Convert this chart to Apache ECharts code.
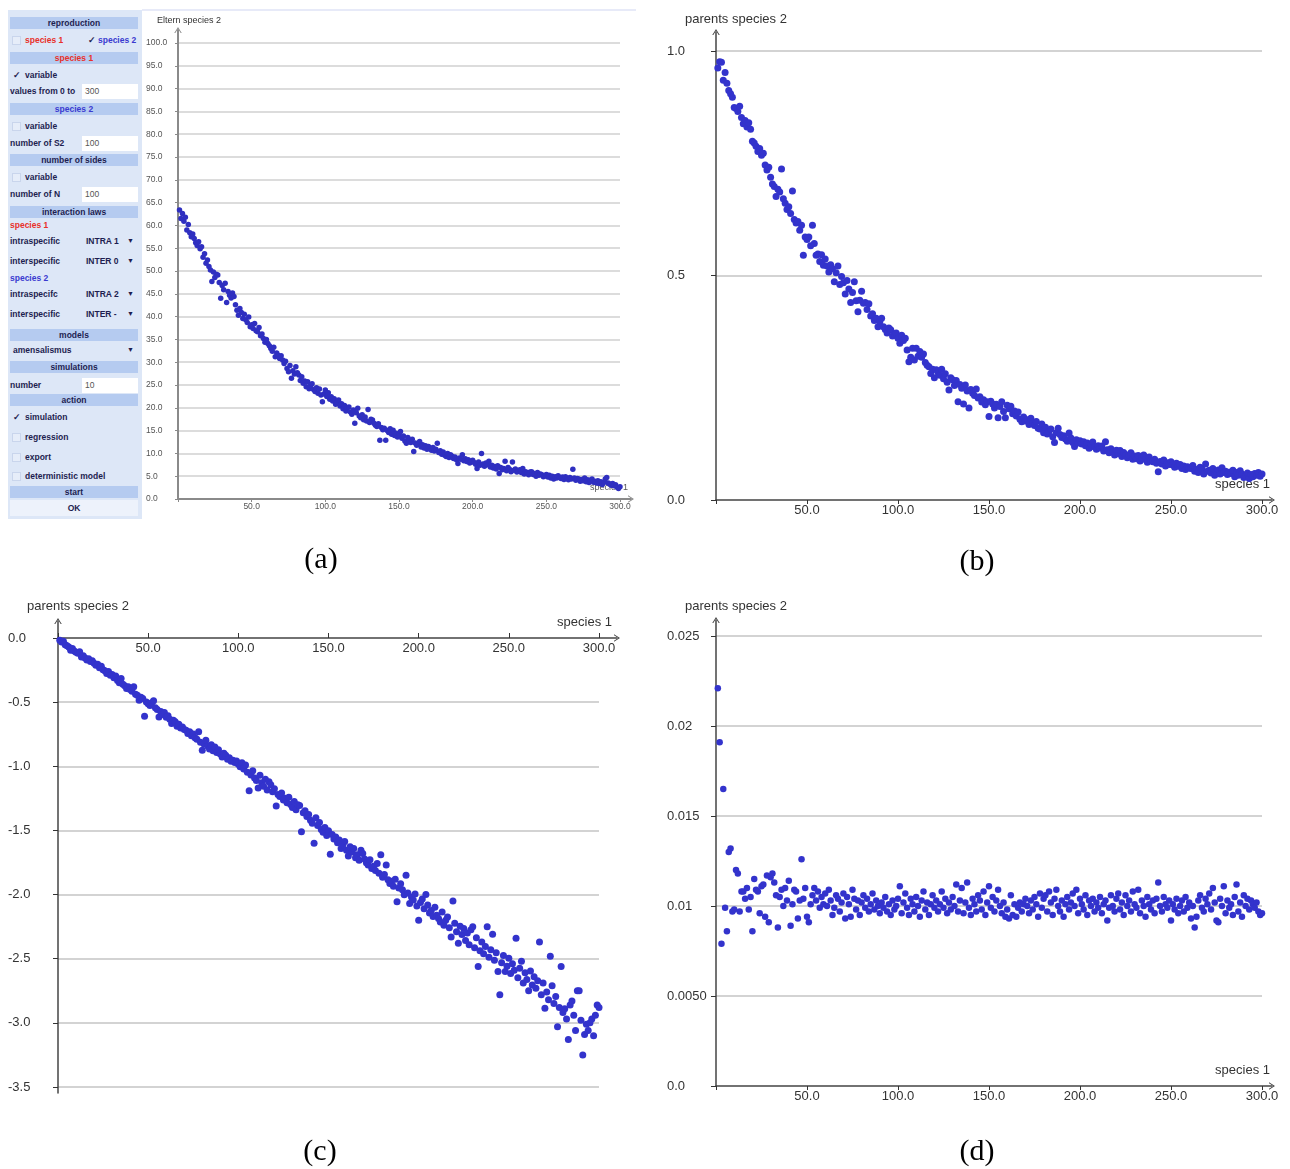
<!DOCTYPE html>
<html><head><meta charset="utf-8">
<script src="https://cdn.jsdelivr.net/npm/echarts@6/dist/echarts.min.js"></script>
<style>
html,body{margin:0;padding:0;background:#fff;width:1290px;height:1169px;overflow:hidden;}
#chart{position:absolute;left:0;top:0;width:1290px;height:1169px;}
#panel{position:absolute;left:0;top:0;width:0;height:0;z-index:5;font-family:"Liberation Sans",Arial,sans-serif;font-size:8.5px;font-weight:bold;color:#1e1e50;}
#panel div{position:absolute;white-space:nowrap;}
#panel .bg{left:8px;top:10px;width:134px;height:509px;background:#dde7f7;}
#panel .h{left:10px;width:128px;height:12px;line-height:12px;background:#b5cbf0;text-align:center;}
#panel .t{height:12px;line-height:12px;}
#panel .inp{left:82px;width:56px;height:15px;line-height:15px;background:#fff;font-weight:normal;color:#555;padding-left:3px;box-sizing:border-box;}
#panel .cb{width:7px;height:7px;border:1px solid #c9d5ec;background:#e6edf9;}
#panel .red{color:#e8302a;}
#panel .blue{color:#3a3ad0;}
#panel .arr{font-size:7px;}
#panel .ok{left:10px;top:500px;width:128px;height:16px;line-height:16px;background:#edf2fb;text-align:center;}
</style></head>
<body>
<div id="chart"></div>
<div id="panel">
  <div class="bg"></div>
  <div class="h" style="top:17px">reproduction</div>
  <div class="cb" style="left:12px;top:36px"></div>
  <div class="t red" style="left:25px;top:34px">species 1</div>
  <div class="t" style="left:88px;top:34px">&#10003;</div>
  <div class="t blue" style="left:98px;top:34px">species 2</div>
  <div class="h red" style="top:52px">species 1</div>
  <div class="t" style="left:13px;top:69px">&#10003;</div>
  <div class="t" style="left:25px;top:69px">variable</div>
  <div class="t" style="left:10px;top:85px">values from 0 to</div>
  <div class="inp" style="top:84px">300</div>
  <div class="h blue" style="top:103px">species 2</div>
  <div class="cb" style="left:12px;top:122px"></div>
  <div class="t" style="left:25px;top:120px">variable</div>
  <div class="t" style="left:10px;top:137px">number of S2</div>
  <div class="inp" style="top:136px">100</div>
  <div class="h" style="top:154px">number of sides</div>
  <div class="cb" style="left:12px;top:173px"></div>
  <div class="t" style="left:25px;top:171px">variable</div>
  <div class="t" style="left:10px;top:188px">number of N</div>
  <div class="inp" style="top:187px">100</div>
  <div class="h" style="top:206px">interaction laws</div>
  <div class="t red" style="left:10px;top:219px">species 1</div>
  <div class="t" style="left:10px;top:235px">intraspecific</div>
  <div class="t" style="left:86px;top:235px">INTRA 1</div>
  <div class="t arr" style="left:127px;top:235px">&#9660;</div>
  <div class="t" style="left:10px;top:255px">interspecific</div>
  <div class="t" style="left:86px;top:255px">INTER 0</div>
  <div class="t arr" style="left:127px;top:255px">&#9660;</div>
  <div class="t blue" style="left:10px;top:272px">species 2</div>
  <div class="t" style="left:10px;top:288px">intraspecifc</div>
  <div class="t" style="left:86px;top:288px">INTRA 2</div>
  <div class="t arr" style="left:127px;top:288px">&#9660;</div>
  <div class="t" style="left:10px;top:308px">interspecific</div>
  <div class="t" style="left:86px;top:308px">INTER -</div>
  <div class="t arr" style="left:127px;top:308px">&#9660;</div>
  <div class="h" style="top:329px">models</div>
  <div class="t" style="left:13px;top:344px">amensalismus</div>
  <div class="t arr" style="left:127px;top:344px">&#9660;</div>
  <div class="h" style="top:361px">simulations</div>
  <div class="t" style="left:10px;top:379px">number</div>
  <div class="inp" style="top:378px">10</div>
  <div class="h" style="top:394px">action</div>
  <div class="t" style="left:13px;top:411px">&#10003;</div>
  <div class="t" style="left:25px;top:411px">simulation</div>
  <div class="cb" style="left:12px;top:433px"></div>
  <div class="t" style="left:25px;top:431px">regression</div>
  <div class="cb" style="left:12px;top:453px"></div>
  <div class="t" style="left:25px;top:451px">export</div>
  <div class="cb" style="left:12px;top:472px"></div>
  <div class="t" style="left:25px;top:470px">deterministic model</div>
  <div class="h" style="top:486px">start</div>
  <div class="ok">OK</div>
</div>
<script>
// ---------------- data ----------------
const xs = [
1,2,3,4,5,6,7,8,9,10,11,12,13,14,15,16,17,18,19,20,
21,22,23,24,25,26,27,28,29,30,31,32,33,34,35,36,37,38,39,40,
41,42,43,44,45,46,47,48,49,50,51,52,53,54,55,56,57,58,59,60,
61,62,63,64,65,66,67,68,69,70,71,72,73,74,75,76,77,78,79,80,
81,82,83,84,85,86,87,88,89,90,91,92,93,94,95,96,97,98,99,100,
101,102,103,104,105,106,107,108,109,110,111,112,113,114,115,116,117,118,119,120,
121,122,123,124,125,126,127,128,129,130,131,132,133,134,135,136,137,138,139,140,
141,142,143,144,145,146,147,148,149,150,151,152,153,154,155,156,157,158,159,160,
161,162,163,164,165,166,167,168,169,170,171,172,173,174,175,176,177,178,179,180,
181,182,183,184,185,186,187,188,189,190,191,192,193,194,195,196,197,198,199,200,
201,202,203,204,205,206,207,208,209,210,211,212,213,214,215,216,217,218,219,220,
221,222,223,224,225,226,227,228,229,230,231,232,233,234,235,236,237,238,239,240,
241,242,243,244,245,246,247,248,249,250,251,252,253,254,255,256,257,258,259,260,
261,262,263,264,265,266,267,268,269,270,271,272,273,274,275,276,277,278,279,280,
281,282,283,284,285,286,287,288,289,290,291,292,293,294,295,296,297,298,299,300];

// (a) Eltern species 2
const elternSpecies2 = [
63.4,61.5,62.6,60.9,61.8,59.0,60.2,58.4,57.5,58.1,
57.1,56.2,55.6,56.4,54.9,55.3,53.0,53.8,51.7,52.4,
51.0,50.2,47.7,49.8,48.6,49.3,49.1,47.5,44.0,46.8,
45.9,47.3,43.1,45.5,44.7,44.1,45.2,44.4,42.6,41.4,
40.3,41.8,40.9,39.6,40.5,39.3,38.7,39.9,37.8,38.2,
37.4,38.5,36.9,36.7,37.6,35.8,36.2,35.2,34.4,35.0,
34.1,33.6,33.0,32.4,33.3,31.2,32.0,31.5,30.8,31.4,
30.5,29.7,30.2,28.6,27.9,29.3,26.5,28.1,27.4,29.0,
27.7,27.2,26.0,26.8,25.4,25.9,24.6,25.7,24.2,24.9,
25.3,24.0,23.6,24.4,23.2,24.1,22.8,21.3,23.0,23.9,
22.5,23.3,21.9,22.4,21.5,22.0,20.8,21.2,21.7,20.4,
20.9,19.8,20.5,19.3,20.0,20.2,19.1,18.6,19.5,16.6,
18.9,19.9,18.2,17.8,18.5,17.4,18.0,17.1,19.6,16.8,
17.5,17.3,16.6,16.2,15.9,16.5,12.9,15.7,15.2,15.5,
12.9,15.0,14.6,15.4,14.2,15.1,13.9,14.4,13.6,14.1,
14.8,13.3,13.8,12.7,12.2,13.5,12.9,12.4,13.1,10.4,
12.3,11.8,12.0,12.6,11.4,11.9,11.2,11.7,10.9,11.5,
11.0,10.7,11.3,10.5,10.9,12.2,10.2,10.6,9.8,10.3,
9.6,9.3,10.0,9.1,9.7,9.4,8.9,9.2,8.6,7.8,
9.0,8.7,9.7,8.4,8.8,8.2,8.6,7.9,8.3,8.5,
8.0,7.6,6.7,8.1,7.4,10.0,7.7,7.2,7.9,7.5,
8.3,7.0,7.4,6.8,7.1,6.6,7.3,5.6,6.9,6.4,
6.7,8.3,6.2,6.9,6.5,6.0,8.1,6.3,6.6,5.9,
6.1,6.4,5.8,6.7,5.5,6.0,5.7,5.3,5.9,6.0,
5.4,5.6,5.0,5.8,5.2,5.5,5.3,4.9,5.1,5.4,
4.8,5.2,4.6,5.0,4.4,4.9,4.6,5.1,4.7,4.5,
4.8,4.3,4.9,4.5,4.2,4.7,4.4,6.5,4.6,4.1,
4.5,4.4,3.9,4.3,4.0,4.6,3.8,4.2,3.6,4.1,
4.4,3.7,3.9,3.5,4.0,3.4,3.8,3.2,3.6,4.4,
4.7,3.5,3.3,3.0,3.4,2.9,3.1,2.6,2.3,2.7];

// (b) parents species 2
const parentsSpecies2 = [
0.962,0.976,0.975,0.935,0.952,0.928,0.912,0.905,0.897,0.874,
0.872,0.865,0.877,0.852,0.838,0.845,0.831,0.840,0.826,0.799,
0.795,0.788,0.776,0.783,0.768,0.772,0.746,0.735,0.741,0.719,
0.704,0.698,0.676,0.692,0.686,0.737,0.671,0.661,0.647,0.653,
0.638,0.688,0.625,0.617,0.620,0.601,0.612,0.545,0.586,0.580,
0.586,0.566,0.612,0.571,0.545,0.548,0.531,0.546,0.523,0.537,
0.521,0.508,0.524,0.515,0.486,0.506,0.521,0.480,0.498,0.484,
0.459,0.489,0.470,0.440,0.462,0.486,0.444,0.419,0.445,0.465,
0.438,0.440,0.424,0.437,0.410,0.415,0.400,0.405,0.386,0.397,
0.405,0.386,0.380,0.372,0.383,0.379,0.365,0.370,0.372,0.360,
0.349,0.367,0.355,0.360,0.334,0.308,0.318,0.338,0.312,0.338,
0.320,0.331,0.318,0.325,0.306,0.300,0.297,0.282,0.291,0.272,
0.290,0.284,0.278,0.291,0.270,0.281,0.262,0.245,0.272,0.268,
0.255,0.266,0.219,0.257,0.249,0.214,0.256,0.243,0.205,0.246,
0.238,0.233,0.247,0.227,0.230,0.218,0.223,0.212,0.219,0.186,
0.220,0.214,0.205,0.213,0.183,0.208,0.219,0.197,0.183,0.211,
0.203,0.209,0.192,0.198,0.187,0.196,0.180,0.174,0.185,0.176,
0.179,0.168,0.182,0.171,0.166,0.175,0.160,0.158,0.169,0.150,
0.162,0.147,0.153,0.158,0.141,0.128,0.150,0.160,0.146,0.139,
0.143,0.136,0.131,0.149,0.138,0.128,0.119,0.134,0.127,0.132,
0.125,0.130,0.121,0.127,0.115,0.124,0.129,0.118,0.113,0.121,
0.116,0.120,0.109,0.130,0.112,0.105,0.114,0.108,0.100,0.111,
0.103,0.110,0.097,0.106,0.099,0.094,0.101,0.105,0.091,0.098,
0.092,0.099,0.087,0.094,0.100,0.090,0.084,0.096,0.088,0.085,
0.091,0.082,0.063,0.086,0.080,0.089,0.076,0.083,0.079,0.085,
0.078,0.073,0.082,0.075,0.079,0.070,0.076,0.068,0.074,0.071,
0.070,0.077,0.064,0.068,0.061,0.073,0.069,0.058,0.080,0.064,
0.066,0.060,0.070,0.055,0.063,0.067,0.058,0.072,0.061,0.064,
0.057,0.062,0.059,0.066,0.052,0.061,0.055,0.065,0.058,0.050,
0.054,0.060,0.048,0.057,0.052,0.059,0.055,0.061,0.053,0.058];

// (c) parents species 2 (log scale values)
const parentsSpecies2Log = [
-0.018,-0.031,-0.025,-0.052,-0.060,-0.071,-0.096,-0.082,-0.101,-0.112,
-0.118,-0.107,-0.148,-0.139,-0.156,-0.171,-0.162,-0.184,-0.178,-0.196,
-0.213,-0.205,-0.232,-0.221,-0.248,-0.255,-0.277,-0.262,-0.291,-0.284,
-0.310,-0.296,-0.332,-0.348,-0.316,-0.361,-0.372,-0.394,-0.380,-0.402,
-0.415,-0.380,-0.438,-0.447,-0.485,-0.462,-0.471,-0.610,-0.498,-0.512,
-0.527,-0.505,-0.490,-0.543,-0.558,-0.615,-0.572,-0.596,-0.580,-0.618,
-0.607,-0.634,-0.667,-0.641,-0.652,-0.688,-0.673,-0.701,-0.694,-0.714,
-0.720,-0.745,-0.731,-0.762,-0.748,-0.778,-0.790,-0.730,-0.812,-0.875,
-0.826,-0.798,-0.841,-0.865,-0.833,-0.878,-0.850,-0.892,-0.871,-0.905,
-0.927,-0.898,-0.914,-0.946,-0.933,-0.960,-0.952,-0.971,-0.958,-0.985,
-1.003,-0.972,-1.021,-0.990,-1.046,-1.190,-1.068,-1.035,-1.092,-1.111,
-1.170,-1.070,-1.128,-1.156,-1.102,-1.185,-1.120,-1.143,-1.198,-1.176,
-1.310,-1.219,-1.236,-1.208,-1.262,-1.250,-1.284,-1.241,-1.297,-1.322,
-1.275,-1.338,-1.300,-1.305,-1.510,-1.362,-1.347,-1.391,-1.376,-1.420,
-1.445,-1.600,-1.402,-1.461,-1.438,-1.492,-1.515,-1.478,-1.540,-1.503,
-1.685,-1.531,-1.567,-1.552,-1.596,-1.574,-1.640,-1.612,-1.587,-1.655,
-1.700,-1.628,-1.669,-1.641,-1.712,-1.690,-1.733,-1.655,-1.680,-1.722,
-1.751,-1.769,-1.728,-1.796,-1.780,-1.812,-1.757,-1.834,-1.690,-1.865,
-1.843,-1.770,-1.884,-1.913,-1.897,-1.935,-1.880,-2.056,-1.948,-1.916,
-1.962,-2.001,-1.850,-1.987,-2.070,-2.018,-2.043,-1.995,-2.089,-2.200,
-2.061,-2.034,-2.110,-2.000,-2.082,-2.143,-2.125,-2.170,-2.098,-2.162,
-2.187,-2.214,-2.136,-2.240,-2.201,-2.175,-2.258,-2.330,-2.050,-2.224,
-2.290,-2.380,-2.246,-2.312,-2.265,-2.358,-2.300,-2.392,-2.274,-2.250,
-2.415,-2.336,-2.560,-2.438,-2.370,-2.462,-2.405,-2.250,-2.488,-2.430,
-2.310,-2.512,-2.454,-2.600,-2.780,-2.532,-2.475,-2.600,-2.558,-2.496,
-2.615,-2.540,-2.590,-2.340,-2.648,-2.575,-2.520,-2.690,-2.610,-2.662,
-2.750,-2.595,-2.705,-2.640,-2.730,-2.672,-2.370,-2.780,-2.690,-2.886,
-2.760,-2.820,-2.480,-2.710,-2.850,-2.795,-3.030,-2.880,-2.560,-2.920,
-2.890,-2.970,-3.130,-2.860,-2.830,-2.940,-3.060,-2.750,-2.750,-2.980,
-3.250,-3.090,-3.010,-3.060,-3.000,-2.970,-3.100,-2.940,-2.860,-2.880];

// (d) parents species 2 (rate)
const parentsSpecies2Rate = [
0.0221,0.0191,0.0079,0.0165,0.0099,0.0086,0.0130,0.0132,0.0097,0.0098,
0.0120,0.0118,0.0097,0.0108,0.0108,0.0104,0.0110,0.0098,0.0105,0.0086,
0.0115,0.0109,0.0108,0.0096,0.0111,0.0112,0.0094,0.0117,0.0091,0.0116,
0.0118,0.0113,0.0106,0.0088,0.0105,0.0109,0.0100,0.0110,0.0103,0.0114,
0.0089,0.0101,0.0109,0.0108,0.0093,0.0103,0.0126,0.0104,0.0110,0.0094,
0.0091,0.0101,0.0106,0.0110,0.0103,0.0108,0.0099,0.0105,0.0101,0.0107,
0.0100,0.0109,0.0103,0.0095,0.0099,0.0106,0.0104,0.0097,0.0102,0.0107,
0.0093,0.0105,0.0101,0.0094,0.0109,0.0104,0.0098,0.0103,0.0095,0.0102,
0.0106,0.0099,0.0104,0.0097,0.0101,0.0107,0.0098,0.0103,0.0100,0.0096,
0.0102,0.0099,0.0105,0.0097,0.0101,0.0095,0.0103,0.0098,0.0100,0.0104,
0.0111,0.0096,0.0102,0.0107,0.0099,0.0095,0.0104,0.0101,0.0097,0.0105,
0.0100,0.0094,0.0103,0.0108,0.0098,0.0102,0.0095,0.0101,0.0106,0.0099,
0.0103,0.0097,0.0101,0.0108,0.0099,0.0104,0.0096,0.0102,0.0098,0.0105,
0.0100,0.0112,0.0097,0.0103,0.0110,0.0096,0.0102,0.0113,0.0099,0.0095,
0.0104,0.0101,0.0097,0.0106,0.0103,0.0098,0.0108,0.0095,0.0102,0.0111,
0.0099,0.0105,0.0097,0.0103,0.0109,0.0100,0.0096,0.0102,0.0094,0.0098,
0.0093,0.0106,0.0095,0.0101,0.0094,0.0099,0.0102,0.0097,0.0101,0.0104,
0.0100,0.0096,0.0103,0.0098,0.0105,0.0101,0.0094,0.0107,0.0099,0.0104,
0.0106,0.0097,0.0108,0.0102,0.0095,0.0104,0.0109,0.0100,0.0097,0.0103,
0.0094,0.0101,0.0105,0.0098,0.0102,0.0107,0.0100,0.0109,0.0096,0.0104,
0.0101,0.0098,0.0106,0.0095,0.0103,0.0100,0.0104,0.0097,0.0102,0.0099,
0.0105,0.0096,0.0101,0.0103,0.0092,0.0099,0.0106,0.0100,0.0097,0.0104,
0.0107,0.0098,0.0102,0.0095,0.0106,0.0100,0.0103,0.0097,0.0108,0.0101,
0.0099,0.0109,0.0096,0.0103,0.0100,0.0094,0.0105,0.0101,0.0098,0.0103,
0.0096,0.0104,0.0113,0.0100,0.0097,0.0105,0.0101,0.0099,0.0103,0.0092,
0.0101,0.0098,0.0104,0.0096,0.0100,0.0103,0.0097,0.0105,0.0099,0.0102,
0.0093,0.0100,0.0088,0.0094,0.0103,0.0106,0.0099,0.0097,0.0104,0.0101,
0.0107,0.0098,0.0110,0.0102,0.0092,0.0091,0.0104,0.0100,0.0111,0.0096,
0.0103,0.0099,0.0101,0.0095,0.0105,0.0112,0.0097,0.0102,0.0094,0.0106,
0.0100,0.0104,0.0098,0.0103,0.0101,0.0099,0.0102,0.0097,0.0095,0.0096];

const xTickLabels  = ['', '50.0', '100.0', '150.0', '200.0', '250.0', '300.0'];
const yTickLabelsA = ['0.0','5.0','10.0','15.0','20.0','25.0','30.0','35.0','40.0','45.0','50.0',
                      '55.0','60.0','65.0','70.0','75.0','80.0','85.0','90.0','95.0','100.0'];
const yTickLabelsB = ['0.0','0.5','1.0'];
const yTickLabelsC = ['-3.5','-3.0','-2.5','-2.0','-1.5','-1.0','-0.5','0.0'];
const yTickLabelsD = ['0.0','0.0050','0.01','0.015','0.02','0.025'];
const yNameA = 'Eltern species 2';
const yName  = 'parents species 2';
const xName  = 'species 1';

// ---------------- chart ----------------
const F = '"Liberation Sans", Arial, sans-serif';
function pick(arr, min, step) {
  return function (v) { const i = Math.round((v - min) / step); return (i >= 0 && i < arr.length) ? arr[i] : ''; };
}
const chevron = 'path://M5,0L10,8L8.6,8L5,2.3L1.4,8L0,8Z';

const grids = [
  {left: 178, top: 43,  width: 442, height: 456},  // a
  {left: 716, top: 51,  width: 546, height: 449},  // b
  {left: 58,  top: 638, width: 541, height: 449},  // c
  {left: 716, top: 636, width: 546, height: 450},  // d
  {left: 178, top: 30,  width: 453, height: 469},  // frame a
  {left: 716, top: 32,  width: 556, height: 468},  // frame b
  {left: 58,  top: 621, width: 559, height: 472},  // frame c
  {left: 716, top: 620, width: 556, height: 466}   // frame d
].map(g => Object.assign({outerBoundsMode: 'none', containLabel: false}, g));

function frameAxis(gi, min, max, color, width) {
  return {
    gridIndex: gi, type: 'value', min: min, max: max,
    axisLine: {show: true, onZero: true, symbol: ['none', chevron], symbolSize: [8, 6], lineStyle: {color: color, width: width}},
    axisTick: {show: false}, axisLabel: {show: false}, splitLine: {show: false}
  };
}

function mainX(gi, opts) {
  return Object.assign({
    gridIndex: gi, type: 'value', min: 0, max: 300, interval: 50,
    axisLine: {show: false, onZero: false},
    axisTick: {show: true, length: 4, lineStyle: {color: '#333', width: 1}},
    axisLabel: {formatter: pick(xTickLabels, 0, 50), color: '#333', fontSize: 13, fontFamily: F, margin: 4},
    splitLine: {show: false}
  }, opts || {});
}
function mainY(gi, min, max, step, labels, opts) {
  return Object.assign({
    gridIndex: gi, type: 'value', min: min, max: max, interval: step,
    axisLine: {show: false, onZero: false},
    axisTick: {show: true, length: 5, lineStyle: {color: '#333', width: 1}},
    axisLabel: {formatter: pick(labels, min, step), color: '#333', fontSize: 13, fontFamily: F, align: 'left', margin: 49},
    splitLine: {show: true, showMinLine: false, lineStyle: {color: '#d3d3d3', width: 2}}
  }, opts || {});
}

const xAxes = [
  mainX(0, {axisTick: {show: true, length: 3, lineStyle: {color: '#8a8a8a'}},
            axisLabel: {formatter: pick(xTickLabels, 0, 50), color: '#555', fontSize: 8.5, fontFamily: F, margin: 3}}),
  mainX(1),
  mainX(2, {position: 'top', axisTick: {show: true, length: 5, inside: false, lineStyle: {color: '#333'}},
            axisLabel: {formatter: pick(xTickLabels, 0, 50), color: '#333', fontSize: 13, fontFamily: F, margin: 4, inside: true}}),
  mainX(3),
  frameAxis(4, 0, 1, '#8a8a8a', 2),
  frameAxis(5, 0, 1, '#444', 1.5),
  frameAxis(6, 0, 1, '#444', 1.5),
  frameAxis(7, 0, 1, '#444', 1.5)
];
const yAxes = [
  mainY(0, 0, 100, 5, yTickLabelsA, {
    axisTick: {show: true, length: 3, lineStyle: {color: '#8a8a8a'}},
    axisLabel: {formatter: pick(yTickLabelsA, 0, 5), color: '#555', fontSize: 8.5, fontFamily: F, align: 'left', margin: 32},
    splitLine: {show: true, showMinLine: false, lineStyle: {color: '#dcdcdc', width: 2}}}),
  mainY(1, 0, 1, 0.5, yTickLabelsB),
  mainY(2, -3.5, 0, 0.5, yTickLabelsC, {
    axisLabel: {formatter: pick(yTickLabelsC, -3.5, 0.5), color: '#333', fontSize: 13, fontFamily: F, align: 'left', margin: 50},
    splitLine: {show: true, showMaxLine: false, lineStyle: {color: '#d3d3d3', width: 2}}}),
  mainY(3, 0, 0.025, 0.005, yTickLabelsD),
  frameAxis(4, 0, 1, '#8a8a8a', 2),
  frameAxis(5, 0, 1, '#444', 1.5),
  frameAxis(6, -3.5467, 0.1325, '#444', 1.5),
  frameAxis(7, 0, 1, '#444', 1.5)
];

function pts(ys) { return xs.map((x, i) => [x, ys[i]]); }
const dotColor = '#3333cc';
const series = [
  {type: 'scatter', xAxisIndex: 0, yAxisIndex: 0, data: pts(elternSpecies2), symbolSize: 5.5, itemStyle: {color: '#2f2fc0', opacity: 1}},
  {type: 'scatter', xAxisIndex: 1, yAxisIndex: 1, data: pts(parentsSpecies2), symbolSize: 7, itemStyle: {color: dotColor, opacity: 1}},
  {type: 'scatter', xAxisIndex: 2, yAxisIndex: 2, data: pts(parentsSpecies2Log), symbolSize: 7, itemStyle: {color: dotColor, opacity: 1}},
  {type: 'scatter', xAxisIndex: 3, yAxisIndex: 3, data: pts(parentsSpecies2Rate), symbolSize: 6.5, itemStyle: {color: dotColor, opacity: 1}}
].map(s => Object.assign({silent: true, z: 3, clip: false}, s));

function txt(x, y, text, font, align, fill) {
  return {type: 'text', x: x, y: y, z: 0, silent: true,
          style: {text: text, font: font, fill: fill || '#333', textAlign: align || 'left', textVerticalAlign: 'middle'}};
}
const f13 = '13px "Liberation Sans", Arial, sans-serif';
const f9 = '9px "Liberation Sans", Arial, sans-serif';
const fCap = '30px "Liberation Serif", "Times New Roman", serif';
const graphic = [
  {type: 'rect', z: 0, silent: true, shape: {x: 142, y: 9, width: 494, height: 2}, style: {fill: '#e7eaf8'}},
  txt(157, 20.5, yNameA, f9, 'left', '#333'),
  txt(628, 488, xName, f9, 'right', '#555'),
  txt(685, 19.5, yName, f13),
  txt(1270, 484, xName, f13, 'right'),
  txt(27, 606.5, yName, f13),
  txt(612, 622, xName, f13, 'right'),
  txt(685, 606, yName, f13),
  txt(1270, 1070, xName, f13, 'right'),
  txt(321, 560, '(a)', fCap, 'center', '#000'),
  txt(977, 562, '(b)', fCap, 'center', '#000'),
  txt(320, 1152, '(c)', fCap, 'center', '#000'),
  txt(977, 1152, '(d)', fCap, 'center', '#000')
];

const chart = echarts.init(document.getElementById('chart'), null, {renderer: 'canvas', width: 1290, height: 1169});
chart.setOption({
  animation: false,
  backgroundColor: '#ffffff',
  grid: grids,
  xAxis: xAxes,
  yAxis: yAxes,
  series: series,
  graphic: graphic
});
</script>
</body></html>
